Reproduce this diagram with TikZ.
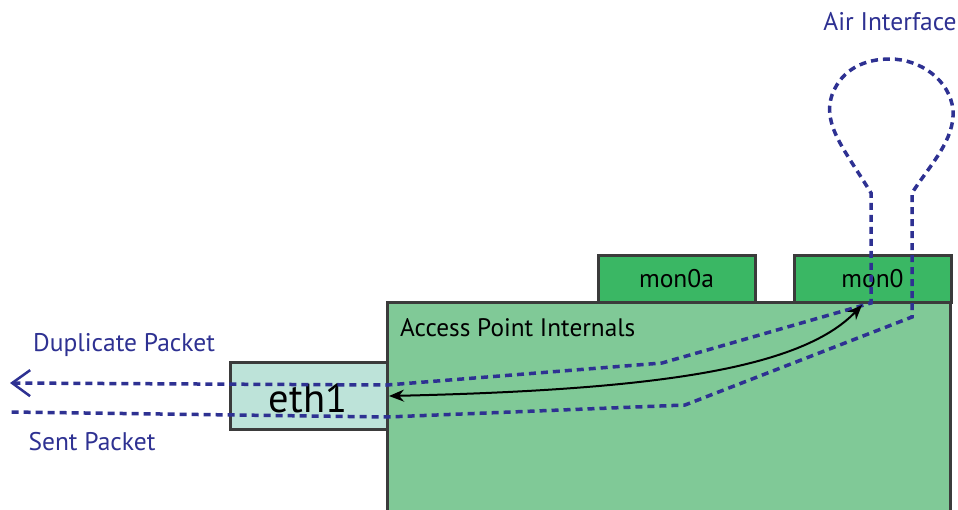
\documentclass[tikz,border=0pt]{standalone}
\usepackage{fontspec}
\setmainfont{PT Sans}
\usetikzlibrary{arrows.meta}
\definecolor{apfill}{HTML}{80C997}
\definecolor{monfill}{HTML}{3AB764}
\definecolor{ethfill}{HTML}{BDE3D9}
\definecolor{edge}{HTML}{3B3B3B}
\definecolor{navy}{HTML}{2E3192}
\tikzset{
  box/.style={draw=edge, line width=3pt, inner sep=0pt, outer sep=0pt, anchor=north west},
  ifbox/.style={box, fill=monfill, minimum width=157pt, minimum height=47pt, font=\fontsize{25.5}{28}\selectfont},
  bluelabel/.style={text=navy, font=\fontsize{25.5}{28}\selectfont, inner sep=0pt},
  pktpath/.style={draw=navy, line width=3.5pt, dash pattern=on 7pt off 5pt},
  flow/.style={draw=black, line width=2pt, {Stealth[length=15pt,width=12pt]}-{Stealth[length=15pt,width=12pt]}}
}
\begin{document}
\begin{tikzpicture}[x=1pt,y=1pt]
\useasboundingbox (0,0) rectangle (958,-509);
\fill[white] (0,0) rectangle (958,-509);

% access point body (runs off the bottom edge)
\node[box, fill=apfill, minimum width=563pt, minimum height=225pt] (ap) at (387,-302) {};
\node[anchor=west, font=\fontsize{25.3}{28}\selectfont, inner sep=0pt] (aplabel) at (400,-328) {Access Point Internals};

% interfaces
\node[ifbox] (mon0a) at (598,-255) {mon0a};
\node[ifbox] (mon0) at (794,-255) {mon0};
\node[box, fill=ethfill, minimum width=157pt, minimum height=67pt] (eth1) at (230,-362) {};
\node[font=\fontsize{40.5}{44}\selectfont, inner sep=0pt] (eth1label) at (308,-398) {eth1};

% labels
\node[bluelabel] (dup) at (124,-345) {Duplicate Packet};
\node[bluelabel] (sent) at (92,-442) {Sent Packet};
\node[bluelabel] (air) at (890,-22) {Air Interface};

% packet route: out through eth1, up to mon0, around the air loop and back
\coordinate (dupend) at (10,-383);
\coordinate (sentend) at (10,-412);
\coordinate (a1) at (387,-385);
\coordinate (a2) at (662,-363);
\coordinate (a3) at (871,-303);
\coordinate (a4) at (871,-193);
\coordinate (b4) at (912,-193);
\coordinate (b3) at (912,-317);
\coordinate (b2) at (685,-405);
\coordinate (b1) at (387,-417);
\draw[pktpath, {Straight Barb[length=18pt,width=26pt,line width=2.5pt]}-]
  (dupend) -- (a1) -- (a2) -- (a3) -- (a4)
  .. controls (845,-150) and (822,-125) .. (832,-95)
  .. controls (842,-68) and (866,-59) .. (890,-59)
  .. controls (920,-59) and (950,-80) .. (953,-110)
  .. controls (955,-140) and (930,-165) .. (b4)
  -- (b3) -- (b2) -- (b1) -- (sentend);

% internal forwarding between eth1 and mon0
\coordinate (fe) at (389,-396);
\coordinate (fm) at (862,-305);
\draw[flow] (fe) .. controls (650,-390) and (800,-370) .. (fm);
\end{tikzpicture}
\end{document}
